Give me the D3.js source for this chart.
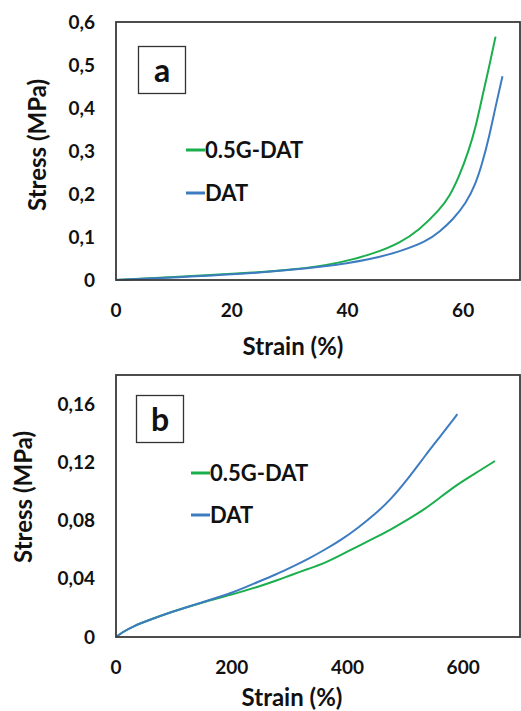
<!DOCTYPE html>
<html>
<head>
<meta charset="utf-8">
<script src="https://cdn.jsdelivr.net/npm/d3@7"></script>
<style>
  body { margin: 0; background: #fff; }
  text { font-family: Lato, "Open Sans", sans-serif; font-weight: 700; fill: #111; }
</style>
</head>
<body>
<div id="chart"></div>
<script>
/* DATA */
const seriesNames = ["0.5G-DAT", "DAT"];
const seriesColors = ["#1aae4c", "#3d7cc0"];

// panel a
const aStrainG = [0, 10, 20, 30.5, 39.1, 44.9, 49.0, 52.4, 55.9, 57.6, 59.3, 61.0, 62.2, 63.3, 64.5, 65.6];
const aStressG = [0, 0.007, 0.014, 0.023, 0.040, 0.063, 0.086, 0.116, 0.163, 0.193, 0.240, 0.302, 0.357, 0.426, 0.496, 0.566];
const aStrainD = [0, 10, 24.8, 36.3, 43.8, 49.0, 53.6, 56.0, 58.2, 60.5, 62.2, 63.3, 64.5, 65.6, 66.8];
const aStressD = [0, 0.006, 0.016, 0.031, 0.047, 0.066, 0.089, 0.113, 0.140, 0.178, 0.225, 0.271, 0.333, 0.403, 0.474];
const aXTicks = [0, 20, 40, 60];
const aYTicks = [0, 0.1, 0.2, 0.3, 0.4, 0.5, 0.6];

// panel b
const bStrainG = [0, 10, 30, 60, 90, 150, 200, 247, 276, 304, 333, 361, 390, 418, 447, 475, 504, 533, 561, 590, 618, 655];
const bStressG = [0, 0.003, 0.0075, 0.012, 0.0165, 0.024, 0.029, 0.0347, 0.0386, 0.0428, 0.0469, 0.0508, 0.0566, 0.0623, 0.0681, 0.0738, 0.0807, 0.0876, 0.0961, 0.1048, 0.1117, 0.1209];
const bStrainD = [0, 10, 30, 60, 90, 150, 200, 247, 276, 304, 333, 361, 390, 418, 447, 475, 504, 533, 561, 590];
const bStressD = [0, 0.003, 0.0075, 0.012, 0.0165, 0.024, 0.030, 0.0382, 0.0428, 0.0481, 0.0538, 0.0600, 0.0669, 0.0749, 0.0841, 0.0945, 0.1083, 0.1239, 0.1381, 0.1531];
const bXTicks = [0, 200, 400, 600];
const bYTicks = [0, 0.04, 0.08, 0.12, 0.16];

const width = 521, height = 711;

const svg = d3.select("#chart").append("svg")
  .attr("width", width)
  .attr("height", height);

const zip = (xs, ys) => xs.map((x, i) => ({ x: x, y: ys[i] }));
const fmt = d => d === 0 ? "0" : String(d).replace(".", ",");

function drawPanel(p) {
  const x = d3.scaleLinear().domain(p.xDomain).range([p.left, p.right + 1]);
  const y = d3.scaleLinear().domain(p.yDomain).range([p.bottom, p.top]);
  const g = svg.append("g");

  // y tick labels
  g.selectAll(".yt").data(p.yTicks).join("text")
    .attr("x", p.left - 21)
    .attr("y", d => y(d))
    .attr("dy", "0.35em")
    .attr("text-anchor", "end")
    .style("font-size", "19px")
    .text(fmt);

  // x tick labels
  g.selectAll(".xt").data(p.xTicks).join("text")
    .attr("x", d => x(d))
    .attr("y", p.bottom + 30)
    .attr("dy", "0.35em")
    .attr("text-anchor", "middle")
    .style("font-size", "19px")
    .text(d => d);

  // axis titles
  g.append("text")
    .attr("transform", `translate(${p.yTitleX}, ${p.yTitleY}) rotate(-90)`)
    .attr("text-anchor", "middle")
    .attr("dy", "0.35em")
    .style("font-size", "24px")
    .text("Stress (MPa)");

  g.append("text")
    .attr("x", p.xTitleX)
    .attr("y", p.xTitleY)
    .attr("dy", "0.35em")
    .attr("text-anchor", "middle")
    .style("font-size", "24px")
    .text("Strain (%)");

  // lines
  const line = d3.line()
    .x(d => x(d.x))
    .y(d => y(d.y))
    .curve(d3.curveBasis);

  g.selectAll(".series").data(p.series).join("path")
    .attr("fill", "none")
    .attr("stroke", (d, i) => seriesColors[i])
    .attr("stroke-width", 2)
    .attr("d", d => line(d));

  // frame
  g.append("rect")
    .attr("x", p.left)
    .attr("y", p.top)
    .attr("width", p.right - p.left)
    .attr("height", p.bottom - p.top)
    .attr("fill", "none")
    .attr("stroke", "#3a3a3a")
    .attr("stroke-width", 1.8);

  // panel label box
  g.append("rect")
    .attr("x", p.boxX)
    .attr("y", p.boxY)
    .attr("width", 47)
    .attr("height", 47)
    .attr("fill", "#fff")
    .attr("stroke", "#333")
    .attr("stroke-width", 1.3);
  g.append("text")
    .attr("x", p.boxX + 23.5)
    .attr("y", p.boxY + 24)
    .attr("dy", "0.35em")
    .attr("text-anchor", "middle")
    .style("font-size", "32px")
    .text(p.label);

  // legend
  const leg = g.selectAll(".leg").data(seriesNames).join("g")
    .attr("transform", (d, i) => `translate(${p.legX}, ${p.legY + i * p.legGap})`);
  leg.append("line")
    .attr("x1", 0).attr("x2", 19)
    .attr("stroke", (d, i) => seriesColors[i])
    .attr("stroke-width", 3);
  leg.append("text")
    .attr("x", 19)
    .attr("dy", "0.35em")
    .style("font-size", "22px")
    .text(d => d);
}

drawPanel({
  left: 116, right: 520, top: 22, bottom: 280,
  xDomain: [0, 70], yDomain: [0, 0.6],
  xTicks: aXTicks, yTicks: aYTicks,
  series: [zip(aStrainG, aStressG), zip(aStrainD, aStressD)],
  yTitleX: 38, yTitleY: 145, xTitleX: 293, xTitleY: 347,
  boxX: 138.5, boxY: 46.5, label: "a",
  legX: 186, legY: 150, legGap: 43
});

drawPanel({
  left: 116, right: 520, top: 375, bottom: 637,
  xDomain: [0, 700], yDomain: [0, 0.18],
  xTicks: bXTicks, yTicks: bYTicks,
  series: [zip(bStrainG, bStressG), zip(bStrainD, bStressD)],
  yTitleX: 24, yTitleY: 497, xTitleX: 292, xTitleY: 698,
  boxX: 136.5, boxY: 395.5, label: "b",
  legX: 191, legY: 473, legGap: 42
});
</script>
</body>
</html>
